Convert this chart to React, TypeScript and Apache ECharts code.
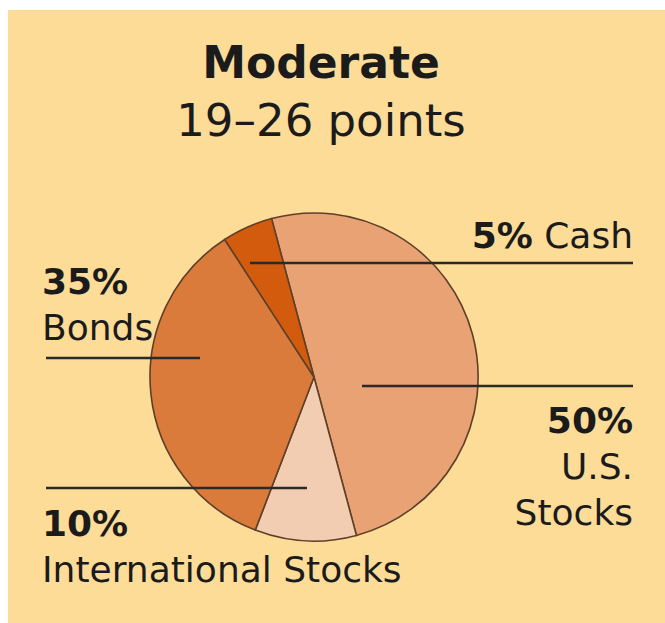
import React, { useEffect, useRef } from "react";
import * as echarts from "echarts";

const categories = ["U.S. Stocks", "International Stocks", "Bonds", "Cash"];
const values = [50, 10, 35, 5];
const labelNames = ["U.S.\nStocks", "International Stocks", "Bonds", "Cash"];
const sliceColors = ["#E9A274", "#F3CDB1", "#DA7B3B", "#D35B0E"];
const titleText = "Moderate";
const subtitleText = "19–26 points";

export default function App() {
  const ref = useRef<HTMLDivElement>(null);
  useEffect(() => {
    document.body.style.margin = "0";
    const chart = echarts.init(ref.current!, null, { renderer: "svg" });
    const font = "'DejaVu Sans', sans-serif";
    const ink = "#1b1b1b";
    const layouts: any[] = [
      { x: 633, y: 397, align: "right", verticalAlign: "top", line: [[362, 386], [500, 386], [633, 386]] },
      { x: 42, y: 500, align: "left", verticalAlign: "top", line: [[46, 488], [180, 488], [307, 488]] },
      { x: 42, y: 258, align: "left", verticalAlign: "top", line: [[46, 358], [120, 358], [200, 358]] },
      { x: 633, y: 258, align: "right", verticalAlign: "bottom", line: [[250, 263], [440, 263], [633, 263]] },
    ];
    const pieData = categories.map((c, i) => ({ name: c, value: values[i], itemStyle: { color: sliceColors[i] } }));
    const common = {
      type: "pie",
      center: [314, 377],
      radius: 164,
      startAngle: 105,
      clockwise: true,
      avoidLabelOverlap: false,
      emphasis: { disabled: true },
      silent: true,
    };
    chart.setOption({
      animation: false,
      backgroundColor: "#ffffff",
      graphic: [
        { type: "rect", z: -10, shape: { x: 8, y: 10, width: 657, height: 613 }, style: { fill: "#FDDC98" }, silent: true },
      ],
      title: {
        text: titleText,
        subtext: subtitleText,
        left: 316,
        textAlign: "center",
        top: 35,
        itemGap: 14,
        textStyle: { fontFamily: font, fontSize: 44, lineHeight: 44, fontWeight: "bold", color: ink },
        subtextStyle: { fontFamily: font, fontSize: 45, lineHeight: 45, fontWeight: "normal", color: ink },
      },
      series: [
        {
          ...common,
          z: 2,
          itemStyle: { borderColor: "#5E4029", borderWidth: 1.6 },
          data: pieData,
          label: { show: false },
          labelLine: { show: false },
        },
        {
          ...common,
          z: 6,
          itemStyle: { color: "rgba(0,0,0,0)", borderWidth: 0 },
          data: categories.map((c, i) => ({ name: c, value: values[i] })),
          label: {
            show: true,
            position: "outside",
            formatter: (p: any) => {
              const idx = p.dataIndex;
              const pct = `${values[idx]}%`;
              if (idx === 3) return `{b|${pct}}{n| ${labelNames[idx]}}`;
              return `{b|${pct}}\n` + labelNames[idx].split("\n").map((s) => `{n|${s}}`).join("\n");
            },
            rich: {
              b: { fontFamily: font, fontSize: 36, fontWeight: "bold", color: ink, lineHeight: 46 },
              n: { fontFamily: font, fontSize: 36, color: ink, lineHeight: 46 },
            },
          },
          labelLine: { show: true, lineStyle: { color: "#2a2a2a", width: 2.6 } },
          labelLayout: (params: any) => {
            const l = layouts[params.dataIndex];
            return { x: l.x, y: l.y, align: l.align, verticalAlign: l.verticalAlign, labelLinePoints: l.line };
          },
        },
      ],
    });
    return () => chart.dispose();
  }, []);
  return <div ref={ref} style={{ width: 665, height: 623 }} />;
}
